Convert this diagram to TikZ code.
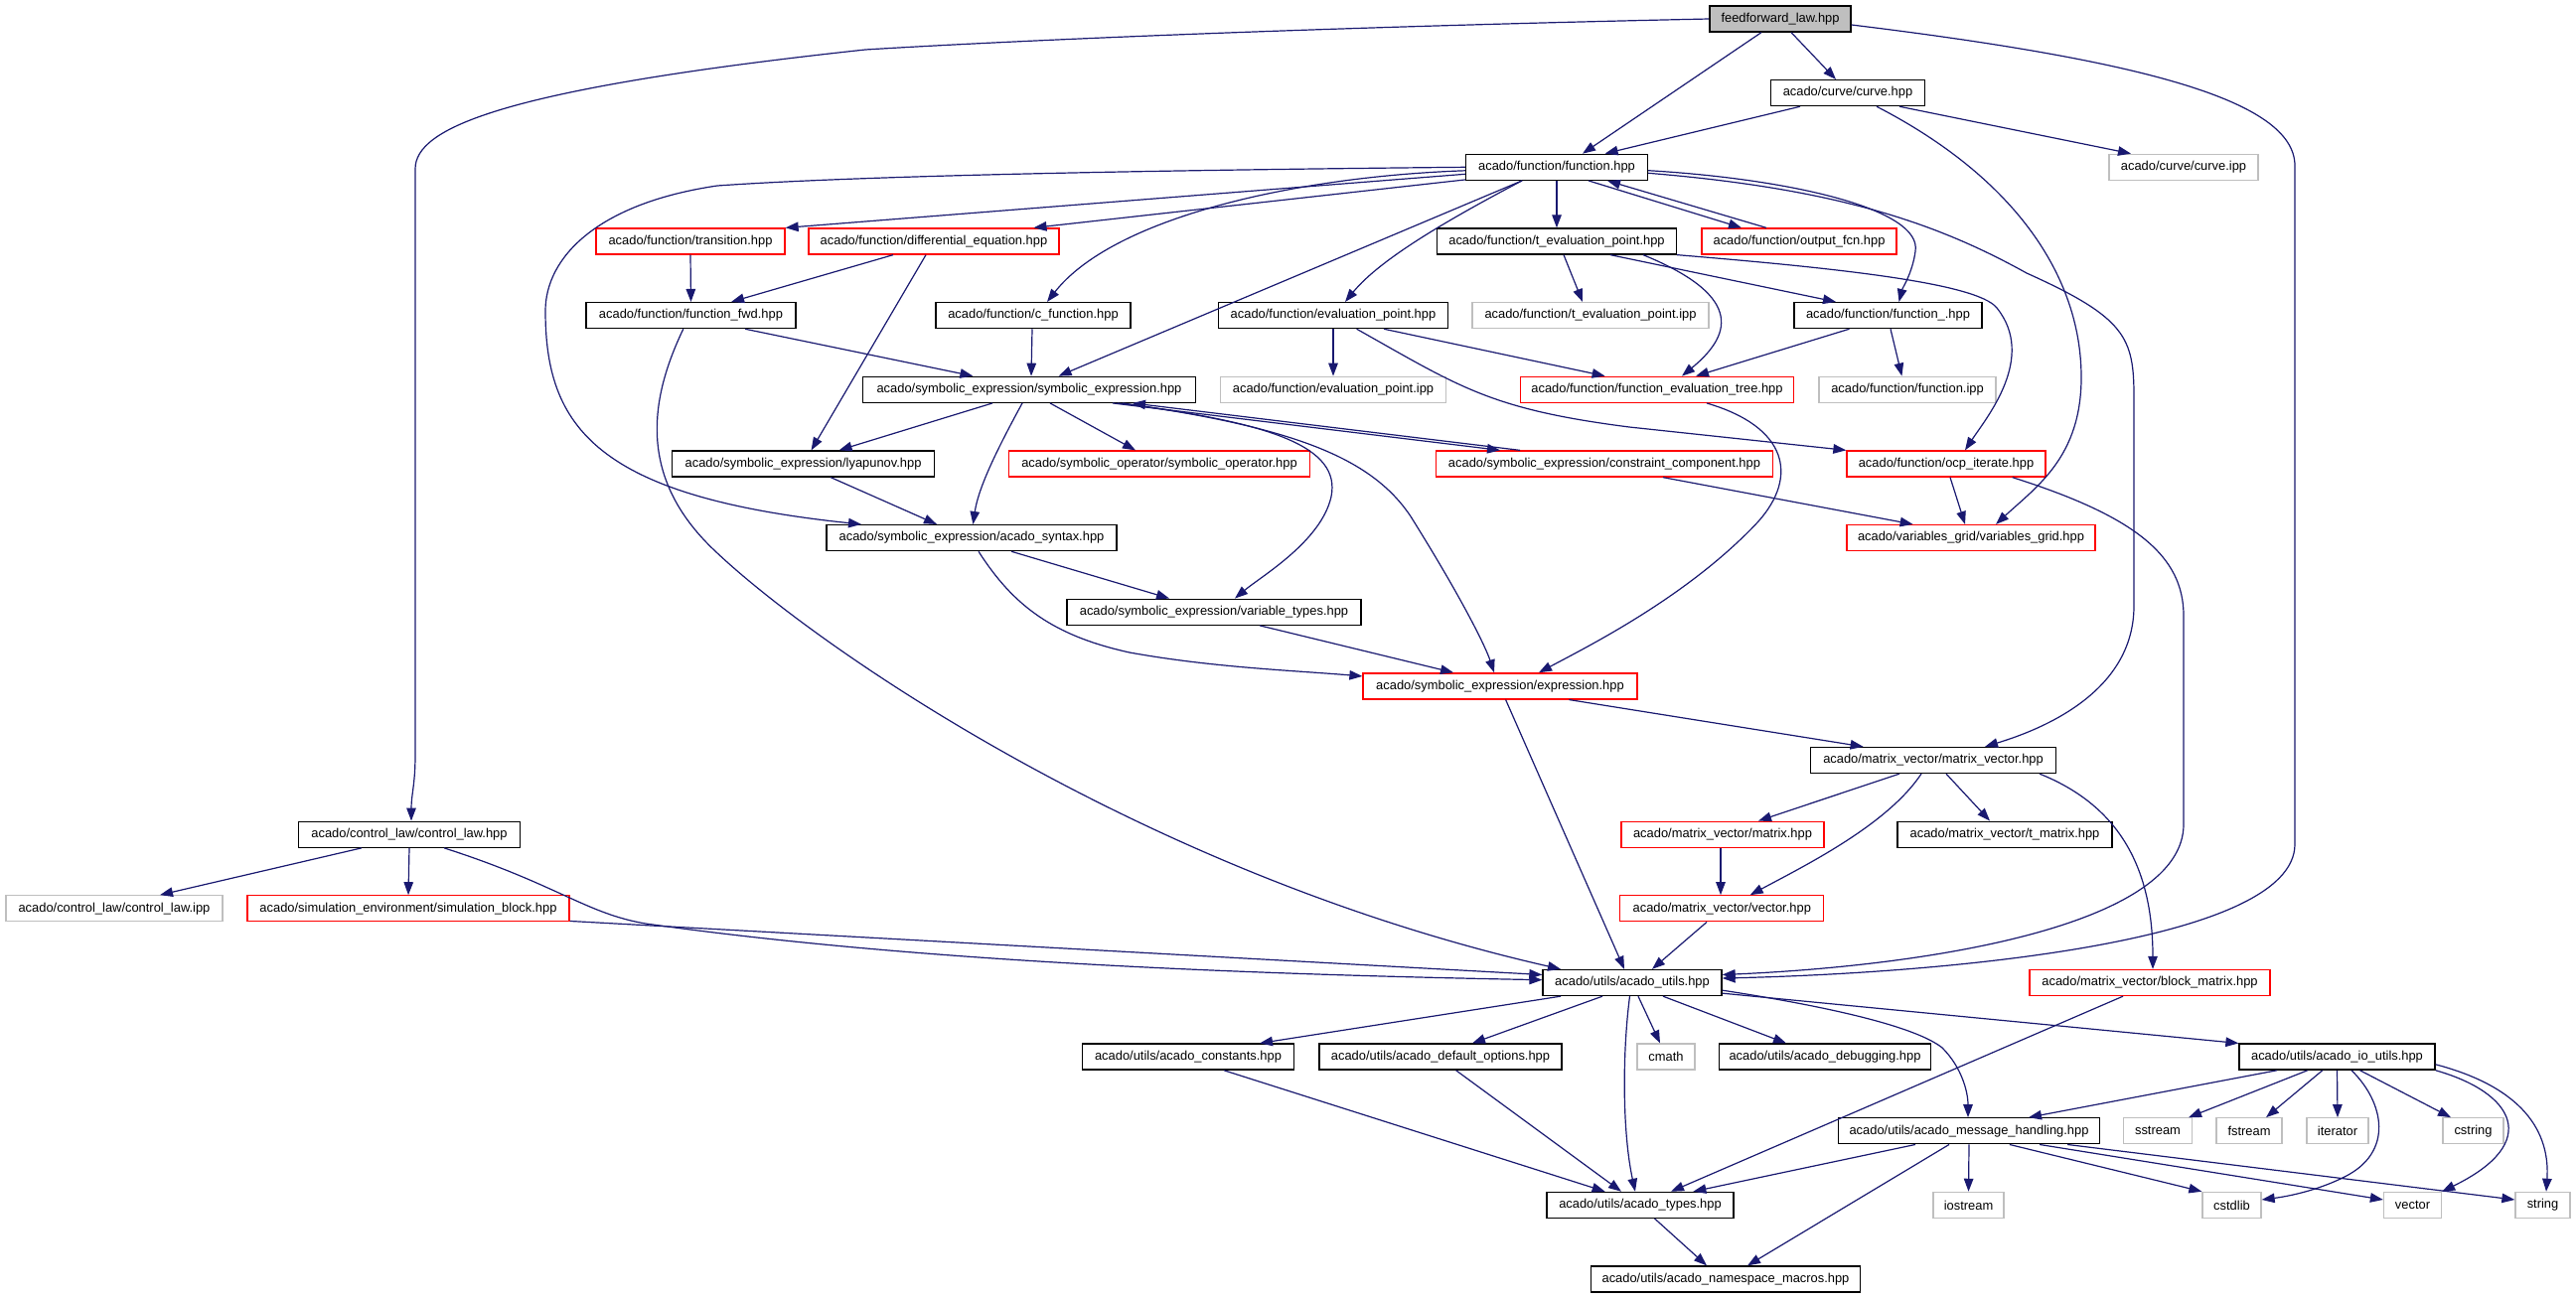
\documentclass[tikz,border=0pt]{standalone}
\usepackage{fontspec}
\setmainfont{Liberation Sans}
\usetikzlibrary{arrows.meta}
\definecolor{edgec}{HTML}{191970}
\definecolor{greyb}{HTML}{BFBFBF}
\begin{document}
\begin{tikzpicture}[x=1pt,y=-1pt,
  box/.style={rectangle, inner sep=0pt, minimum height=26pt, line width=1.3pt, font=\fontsize{12.9}{14}\selectfont},
  nb/.style={box, draw=black},
  nr/.style={box, draw=red},
  ng/.style={box, draw=greyb},
  nf/.style={box, draw=black, fill=greyb},
  e/.style={draw=edgec, line width=1.2pt, -{Triangle[length=13pt,width=9.5pt]}, fill=none}]
\fill[white] (0,0) rectangle (2593,1307);
\useasboundingbox (0,0) rectangle (2593,1307);
% nodes
\node[nf, minimum width=142pt] (ff) at (1792,19) {feedforward\_law.hpp};
\node[nb, minimum width=155pt] (curve) at (1860,93.6) {acado/curve/curve.hpp};
\node[nb, minimum width=183pt] (func) at (1567,168.3) {acado/function/function.hpp};
\node[ng, minimum width=150pt] (curveipp) at (2198,168.3) {acado/curve/curve.ipp};
\node[nr, minimum width=190pt] (trans) at (695,243) {acado/function/transition.hpp};
\node[nr, minimum width=252pt] (diffeq) at (940,243) {acado/function/differential\_equation.hpp};
\node[nb, minimum width=241pt] (teval) at (1567,243) {acado/function/t\_evaluation\_point.hpp};
\node[nr, minimum width=196pt] (outfcn) at (1811,243) {acado/function/output\_fcn.hpp};
\node[nb, minimum width=211pt] (ffwd) at (695.5,317.6) {acado/function/function\_fwd.hpp};
\node[nb, minimum width=196pt] (cfunc) at (1040,317.6) {acado/function/c\_function.hpp};
\node[nb, minimum width=231pt] (evalpt) at (1342,317.6) {acado/function/evaluation\_point.hpp};
\node[ng, minimum width=238pt] (tevalipp) at (1601,317.6) {acado/function/t\_evaluation\_point.ipp};
\node[nb, minimum width=189pt] (funcu) at (1900.5,317.6) {acado/function/function\_.hpp};
\node[nb, minimum width=335pt] (symexp) at (1036,392.3) {acado/symbolic\_expression/symbolic\_expression.hpp};
\node[ng, minimum width=227pt] (evalipp) at (1342,392.3) {acado/function/evaluation\_point.ipp};
\node[nr, minimum width=275pt] (fetree) at (1668,392.3) {acado/function/function\_evaluation\_tree.hpp};
\node[ng, minimum width=178pt] (funcipp) at (1920,392.3) {acado/function/function.ipp};
\node[nb, minimum width=264pt] (lyap) at (808.6,467) {acado/symbolic\_expression/lyapunov.hpp};
\node[nr, minimum width=303pt] (symop) at (1167,467) {acado/symbolic\_operator/symbolic\_operator.hpp};
\node[nr, minimum width=339pt] (constr) at (1615,467) {acado/symbolic\_expression/constraint\_component.hpp};
\node[nr, minimum width=200pt] (ocp) at (1959,467) {acado/function/ocp\_iterate.hpp};
\node[nb, minimum width=292pt] (syntax) at (978,541.6) {acado/symbolic\_expression/acado\_syntax.hpp};
\node[nr, minimum width=250pt] (vgrid) at (1984,541.6) {acado/variables\_grid/variables\_grid.hpp};
\node[nb, minimum width=296pt] (vtypes) at (1222,616.2) {acado/symbolic\_expression/variable\_types.hpp};
\node[nr, minimum width=276pt] (expr) at (1510,690.9) {acado/symbolic\_expression/expression.hpp};
\node[nb, minimum width=247pt] (mv) at (1946,765.5) {acado/matrix\_vector/matrix\_vector.hpp};
\node[nb, minimum width=223pt] (claw) at (412,840.2) {acado/control\_law/control\_law.hpp};
\node[nr, minimum width=204pt] (matrix) at (1734,840.2) {acado/matrix\_vector/matrix.hpp};
\node[nb, minimum width=216pt] (tmatrix) at (2018,840.2) {acado/matrix\_vector/t\_matrix.hpp};
\node[ng, minimum width=218pt] (clawipp) at (115,914.8) {acado/control\_law/control\_law.ipp};
\node[nr, minimum width=324pt] (simblock) at (411,914.8) {acado/simulation\_environment/simulation\_block.hpp};
\node[nr, minimum width=205pt] (vector) at (1733.3,914.8) {acado/matrix\_vector/vector.hpp};
\node[nb, minimum width=180pt] (utils) at (1643,989.5) {acado/utils/acado\_utils.hpp};
\node[nr, minimum width=242pt] (bmatrix) at (2164,989.5) {acado/matrix\_vector/block\_matrix.hpp};
\node[nb, minimum width=213pt] (consts) at (1196,1064.1) {acado/utils/acado\_constants.hpp};
\node[nb, minimum width=244pt] (defopt) at (1450,1064.1) {acado/utils/acado\_default\_options.hpp};
\node[ng, minimum width=58pt] (cmath) at (1677,1064.1) {cmath};
\node[nb, minimum width=213pt] (debug) at (1837,1064.1) {acado/utils/acado\_debugging.hpp};
\node[nb, minimum width=197pt] (ioutils) at (2352.5,1064.1) {acado/utils/acado\_io\_utils.hpp};
\node[nb, minimum width=263pt] (msg) at (1982,1138.8) {acado/utils/acado\_message\_handling.hpp};
\node[ng, minimum width=69pt] (sstream) at (2172,1138.8) {sstream};
\node[ng, minimum width=66pt] (fstream) at (2264,1138.8) {fstream};
\node[ng, minimum width=62pt] (iterator) at (2353,1138.8) {iterator};
\node[ng, minimum width=61pt] (cstring) at (2489.5,1138.8) {cstring};
\node[nb, minimum width=188pt] (types) at (1651,1213.4) {acado/utils/acado\_types.hpp};
\node[ng, minimum width=71pt] (iostream) at (1981.5,1213.4) {iostream};
\node[ng, minimum width=59pt] (cstdlib) at (2246.5,1213.4) {cstdlib};
\node[ng, minimum width=58pt] (vectorstd) at (2428.5,1213.4) {vector};
\node[ng, minimum width=55pt] (string) at (2559.5,1213.4) {string};
\node[nb, minimum width=271pt] (ns) at (1737,1288) {acado/utils/acado\_namespace\_macros.hpp};
% edges
\draw[e] (ff.west) .. controls (1300,28) and (1000,42) .. (871,50) .. controls (500,90) and (418,130) .. (418,170) -- (418,760) .. controls (418,790) and (414,800) .. ([xshift=2pt]claw.north);
\draw[e] ([xshift=-19pt]ff.south) -- ([xshift=26pt]func.north);
\draw[e] ([xshift=11pt]ff.south) -- ([xshift=-12pt]curve.north);
\draw[e] ([yshift=-6pt]ff.east) .. controls (2150,60) and (2310,100) .. (2310,167) -- (2310,850) .. controls (2310,950) and (1950,980) .. ([yshift=4.5pt]utils.east);
\draw[e] ([xshift=-48pt]curve.south) -- ([xshift=48.6pt]func.north);
\draw[e] ([xshift=52pt]curve.south) -- ([xshift=-53pt]curveipp.north);
\draw[e] ([xshift=29pt]curve.south) .. controls (2030,180) and (2095,280) .. (2095,380) .. controls (2095,460) and (2050,490) .. ([xshift=25pt]vgrid.north);
\draw[e] ([yshift=-7pt]func.west) -- (trans.north east);
\draw[e] ([yshift=1pt]func.south west) -- ([xshift=100.5pt]diffeq.north);
\draw[e] ([yshift=-3.5pt]func.west) .. controls (1300,178) and (1120,220) .. ([xshift=14pt]cfunc.north);
\draw[e] ([xshift=-35pt]func.south) -- ([xshift=29.6pt]symexp.north);
\draw[e] (func.west) .. controls (1100,172) and (850,178) .. (722,187) .. controls (600,205) and (549,260) .. (549,313) .. controls (549,430) and (600,500) .. ([xshift=-111pt]syntax.north);
\draw[e] ([xshift=-35pt]func.south) .. controls (1460,220) and (1390,260) .. ([xshift=12pt]evalpt.north);
\draw[e] (func.south) -- (teval.north);
\draw[e] ([xshift=32pt]func.south) -- ([xshift=-58pt]outfcn.north);
\draw[e] ([xshift=-33pt]outfcn.north) -- ([xshift=51pt]func.south);
\draw[e] ([yshift=-3.4pt]func.east) .. controls (1800,180) and (1935,210) .. (1928,253) .. controls (1925,275) and (1915,290) .. ([xshift=11pt]funcu.north);
\draw[e] ([yshift=-6pt]func.east) .. controls (1850,190) and (1950,225) .. (2040,275) .. controls (2140,320) and (2148,340) .. (2148,400) -- (2148,610) .. controls (2148,690) and (2070,730) .. ([xshift=52pt]mv.north);
\draw[e] ([xshift=7pt]teval.south) -- ([xshift=-8pt]tevalipp.north);
\draw[e] ([xshift=54pt]teval.south) -- ([xshift=-52.5pt]funcu.north);
\draw[e] ([xshift=87pt]teval.south) .. controls (1760,300) and (1740,340) .. ([xshift=25pt]fetree.north);
\draw[e] (teval.south east) .. controls (1850,270) and (1990,285) .. (2010,310) .. controls (2050,360) and (2000,420) .. ([xshift=19pt]ocp.north);
\draw[e] ([xshift=-39pt]funcu.south) -- ([xshift=39pt]fetree.north);
\draw[e] ([xshift=2.5pt]funcu.south) -- ([xshift=-5.6pt]funcipp.north);
\draw[e] ([xshift=-41pt]diffeq.south) -- ([xshift=40.6pt]ffwd.north);
\draw[e] ([xshift=-8pt]diffeq.south) -- ([xshift=8pt]lyap.north);
\draw[e] (trans.south) -- (ffwd.north);
\draw[e] ([xshift=54.5pt]ffwd.south) -- ([xshift=-56.6pt]symexp.north);
\draw[e] ([xshift=-7.7pt]ffwd.south) .. controls (655,400) and (640,480) .. (720,555) .. controls (820,650) and (1150,880) .. ([xshift=-72pt]utils.north);
\draw[e] ([xshift=-1pt]cfunc.south) -- ([xshift=2pt]symexp.north);
\draw[e] (evalpt.south) -- (evalipp.north);
\draw[e] ([xshift=51pt]evalpt.south) -- ([xshift=-52.4pt]fetree.north);
\draw[e] ([xshift=23.6pt]evalpt.south) .. controls (1470,390) and (1500,412) .. (1640,430) -- (ocp.north west);
\draw[e] ([xshift=50pt]fetree.south) .. controls (1800,430) and (1810,480) .. (1770,525) .. controls (1700,600) and (1600,650) .. ([xshift=39pt]expr.north);
\draw[e] ([xshift=-37pt]symexp.south) -- ([xshift=36pt]lyap.north);
\draw[e] ([xshift=21pt]symexp.south) -- ([xshift=-24pt]symop.north);
\draw[e] ([xshift=-7pt]symexp.south) .. controls (1005,450) and (985,490) .. ([xshift=1.4pt]syntax.north);
\draw[e] ([xshift=84pt]symexp.south) -- ([xshift=-105pt]constr.north);
\draw[e] ([xshift=-85pt]constr.north) -- ([xshift=104pt]symexp.south);
\draw[e] ([xshift=89pt]symexp.south) .. controls (1280,425) and (1350,450) .. (1340,500) .. controls (1330,545) and (1270,580) .. ([xshift=21pt]vtypes.north);
\draw[e] ([xshift=94pt]symexp.south) .. controls (1300,430) and (1380,460) .. (1420,520) .. controls (1470,600) and (1495,650) .. ([xshift=-6pt]expr.north);
\draw[e] ([xshift=59pt]constr.south) -- ([xshift=-58.4pt]vgrid.north);
\draw[e] ([xshift=27.6pt]lyap.south) -- ([xshift=-35pt]syntax.north);
\draw[e] ([xshift=40pt]syntax.south) -- ([xshift=-45pt]vtypes.north);
\draw[e] ([xshift=7pt]syntax.south) .. controls (1020,610) and (1060,640) .. (1137,657) .. controls (1220,672) and (1300,675) .. ([yshift=10pt]expr.west);
\draw[e] ([xshift=46pt]vtypes.south) -- ([xshift=-47pt]expr.north);
\draw[e] ([xshift=4pt]ocp.south) -- ([xshift=-6pt]vgrid.north);
\draw[e] ([xshift=66.6pt]ocp.south) .. controls (2150,520) and (2198,560) .. (2198,620) -- (2198,830) .. controls (2198,930) and (1950,972) .. ([yshift=8pt]utils.east);
\draw[e] ([xshift=69.4pt]expr.south) -- ([xshift=-70.4pt]mv.north);
\draw[e] ([xshift=5.6pt]expr.south) -- ([xshift=-8pt]utils.north);
\draw[e] ([xshift=-34pt]mv.south) -- ([xshift=36pt]matrix.north);
\draw[e] ([xshift=-12pt]mv.south) .. controls (1900,830) and (1820,870) .. ([xshift=28.4pt]vector.north);
\draw[e] ([xshift=13pt]mv.south) -- ([xshift=-15pt]tmatrix.north);
\draw[e] ([xshift=107pt]mv.south) .. controls (2130,810) and (2167,870) .. ([xshift=3pt]bmatrix.north);
\draw[e] ([xshift=-2pt]matrix.south) -- ([xshift=-1.3pt]vector.north);
\draw[e] ([xshift=-15.3pt]vector.south) -- ([xshift=20pt]utils.north);
\draw[e] ([xshift=-48pt]claw.south) -- ([xshift=46pt]clawipp.north);
\draw[e] (claw.south) -- (simblock.north);
\draw[e] ([xshift=35pt]claw.south) .. controls (560,890) and (590,920) .. (650,930) .. controls (900,965) and (1200,980) .. ([yshift=2.8pt]utils.west);
\draw[e] ([yshift=1pt]simblock.south east) -- ([yshift=8pt]utils.west);
\draw[e] ([xshift=-27pt]bmatrix.south) -- ([xshift=31pt]types.north);
\draw[e] ([xshift=-72pt]utils.south) -- ([xshift=72pt]consts.north);
\draw[e] ([xshift=-30pt]utils.south) -- ([xshift=32pt]defopt.north);
\draw[e] ([xshift=6pt]utils.south) -- ([xshift=-6pt]cmath.north);
\draw[e] ([xshift=31pt]utils.south) -- ([xshift=-39pt]debug.north);
\draw[e] ([yshift=3pt]utils.south east) -- (ioutils.north west);
\draw[e] ([yshift=6pt]utils.south east) .. controls (1850,1015) and (1930,1035) .. (1955,1055) .. controls (1975,1075) and (1981,1100) .. ([xshift=-1pt]msg.north);
\draw[e] ([xshift=-2.5pt]utils.south) .. controls (1633,1060) and (1633,1140) .. ([xshift=-5pt]types.north);
\draw[e] ([xshift=36pt]consts.south) -- ([xshift=-35.4pt]types.north);
\draw[e] ([xshift=15.6pt]defopt.south) -- ([xshift=-19pt]types.north);
\draw[e] ([xshift=-60.5pt]ioutils.south) -- ([xshift=60pt]msg.north);
\draw[e] ([xshift=-29.7pt]ioutils.south) -- ([xshift=31pt]sstream.north);
\draw[e] ([xshift=-14.7pt]ioutils.south) -- ([xshift=17pt]fstream.north);
\draw[e] (ioutils.south) -- (iterator.north);
\draw[e] ([xshift=23pt]ioutils.south) -- ([xshift=-22.5pt]cstring.north);
\draw[e] ([xshift=14.5pt]ioutils.south) .. controls (2400,1110) and (2410,1160) .. (2360,1185) .. controls (2330,1200) and (2300,1205) .. ([yshift=5.4pt]cstdlib.east);
\draw[e] (ioutils.south east) .. controls (2530,1100) and (2560,1150) .. (vectorstd.north east);
\draw[e] ([yshift=-7.7pt]ioutils.east) .. controls (2540,1095) and (2567,1140) .. ([xshift=3.5pt]string.north);
\draw[e] ([xshift=-54pt]msg.south) -- ([xshift=53.4pt]types.north);
\draw[e] (msg.south) -- (iostream.north);
\draw[e] ([xshift=40.8pt]msg.south) -- (cstdlib.north west);
\draw[e] ([xshift=71pt]msg.south) -- ([yshift=5.4pt]vectorstd.west);
\draw[e] ([xshift=99pt]msg.south) -- ([yshift=5.4pt]string.west);
\draw[e] ([xshift=-20pt]msg.south) -- ([xshift=22pt]ns.north);
\draw[e] ([xshift=14.6pt]types.south) -- ([xshift=-19pt]ns.north);
\end{tikzpicture}
\end{document}
